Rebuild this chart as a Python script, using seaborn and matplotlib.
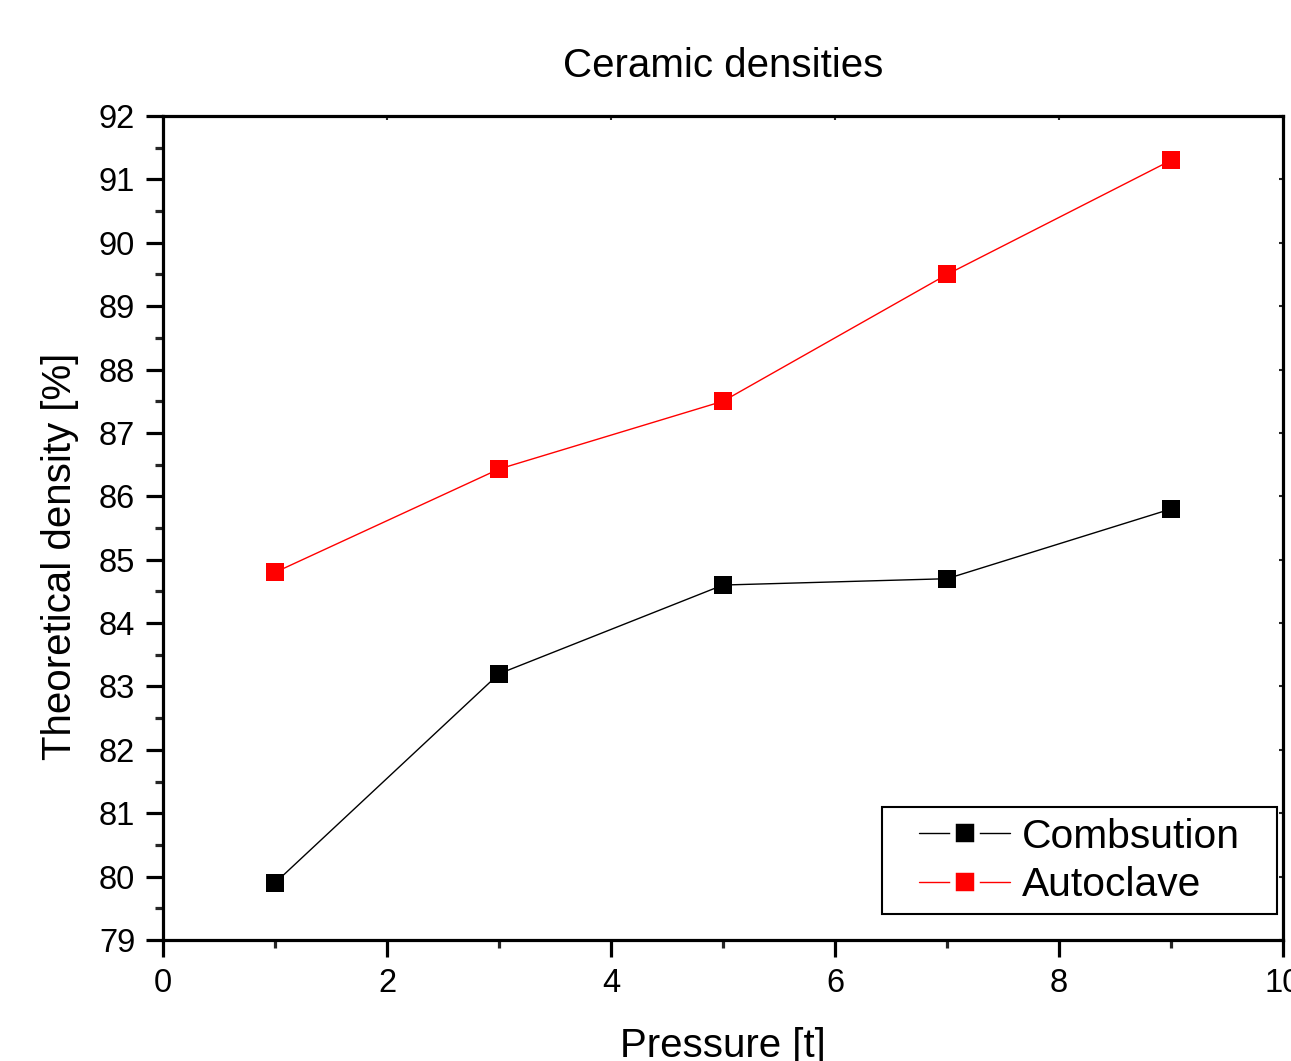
import matplotlib
matplotlib.use("Agg")
import matplotlib.pyplot as plt
import seaborn as sns
import pandas as pd
from matplotlib.ticker import MultipleLocator
from matplotlib.lines import Line2D
from matplotlib.path import Path

pressure = [1, 3, 5, 7, 9]
combustion = [79.9, 83.2, 84.6, 84.7, 85.8]
autoclave = [84.8, 86.43, 87.5, 89.5, 91.3]
series_names = ["Combsution", "Autoclave"]
colors = ["black", "red"]

sns.set_theme(style="white")
plt.rcParams['font.family'] = ['Liberation Sans', 'DejaVu Sans']
plt.rcParams['text.color'] = 'black'
plt.rcParams['axes.labelcolor'] = 'black'

df = pd.DataFrame({
    "Pressure": pressure * 2,
    "Density": combustion + autoclave,
    "Series": [series_names[0]] * 5 + [series_names[1]] * 5,
})

fig = plt.figure(figsize=(12.91, 10.61), dpi=100)
ax = fig.add_axes([163/1291, 1 - 940/1061, (1283-163)/1291, (940-116)/1061])

sns.lineplot(data=df, x="Pressure", y="Density", hue="Series",
             palette=dict(zip(series_names, colors)), marker="s",
             markersize=13, markeredgewidth=0, linewidth=1.0, ax=ax,
             legend=False, sort=False)

ax.set_xlim(0, 10)
ax.set_ylim(79, 92)
ax.xaxis.set_major_locator(MultipleLocator(2))
ax.xaxis.set_minor_locator(MultipleLocator(1))
ax.yaxis.set_major_locator(MultipleLocator(1))
ax.yaxis.set_minor_locator(MultipleLocator(0.5))

for s in ax.spines.values():
    s.set_linewidth(2.3)
    s.set_color("black")

ax.tick_params(axis="both", which="major", direction="out", length=12, width=2.3,
               labelsize=23.5, colors="black", pad=8, top=False, right=False,
               bottom=True, left=True)
ax.tick_params(axis="both", which="minor", direction="out", length=6, width=2.3,
               top=False, right=False, bottom=True, left=True)

# small inward ticks on top/right
ax_top = ax.secondary_xaxis("top")
ax_top.xaxis.set_major_locator(MultipleLocator(2))
ax_top.tick_params(direction="in", length=3, width=1.5, top=True, labeltop=False)
ax_top.set_xticklabels([])
ax_right = ax.secondary_yaxis("right")
ax_right.yaxis.set_major_locator(MultipleLocator(1))
ax_right.tick_params(direction="in", length=3, width=1.5, right=True, labelright=False)
ax_right.set_yticklabels([])

ax.set_xlabel("Pressure [t]", fontsize=29, labelpad=20, color="black")
ax.set_ylabel("Theoretical density [%]", fontsize=29, labelpad=14, color="black")
ax.yaxis.label.set_y(0.466)
ax.set_title("Ceramic densities", fontsize=29, pad=28, color="black")

handles = [Line2D([0], [0], color=c, lw=1.0, marker="s", markersize=17,
                  markerfacecolor=c, markeredgecolor="white",
                  markeredgewidth=4) for c in colors]
leg = ax.legend(handles, series_names, loc="lower right", fontsize=29.3,
                frameon=True, fancybox=False, framealpha=1, edgecolor="black",
                handlelength=2.25, borderpad=0.25, borderaxespad=0,
                labelspacing=0.25, handletextpad=0.28,
                bbox_to_anchor=(0.9705, 0.0316))


class WideSquare:
    def __init__(self, padx, pady):
        self.padx = padx
        self.pady = pady

    def __call__(self, x0, y0, width, height, mutation_size):
        px = self.padx * mutation_size
        py = self.pady * mutation_size
        x1, y1 = x0 + width + px, y0 + height + py
        xa, ya = x0 - px, y0 - py
        return Path([(xa, ya), (x1, ya), (x1, y1), (xa, y1), (xa, ya)], closed=True)


leg.get_frame().set_boxstyle(WideSquare(0.66, 0.0))
leg.get_frame().set_linewidth(1.5)

fig.savefig("out.png", dpi=100)
